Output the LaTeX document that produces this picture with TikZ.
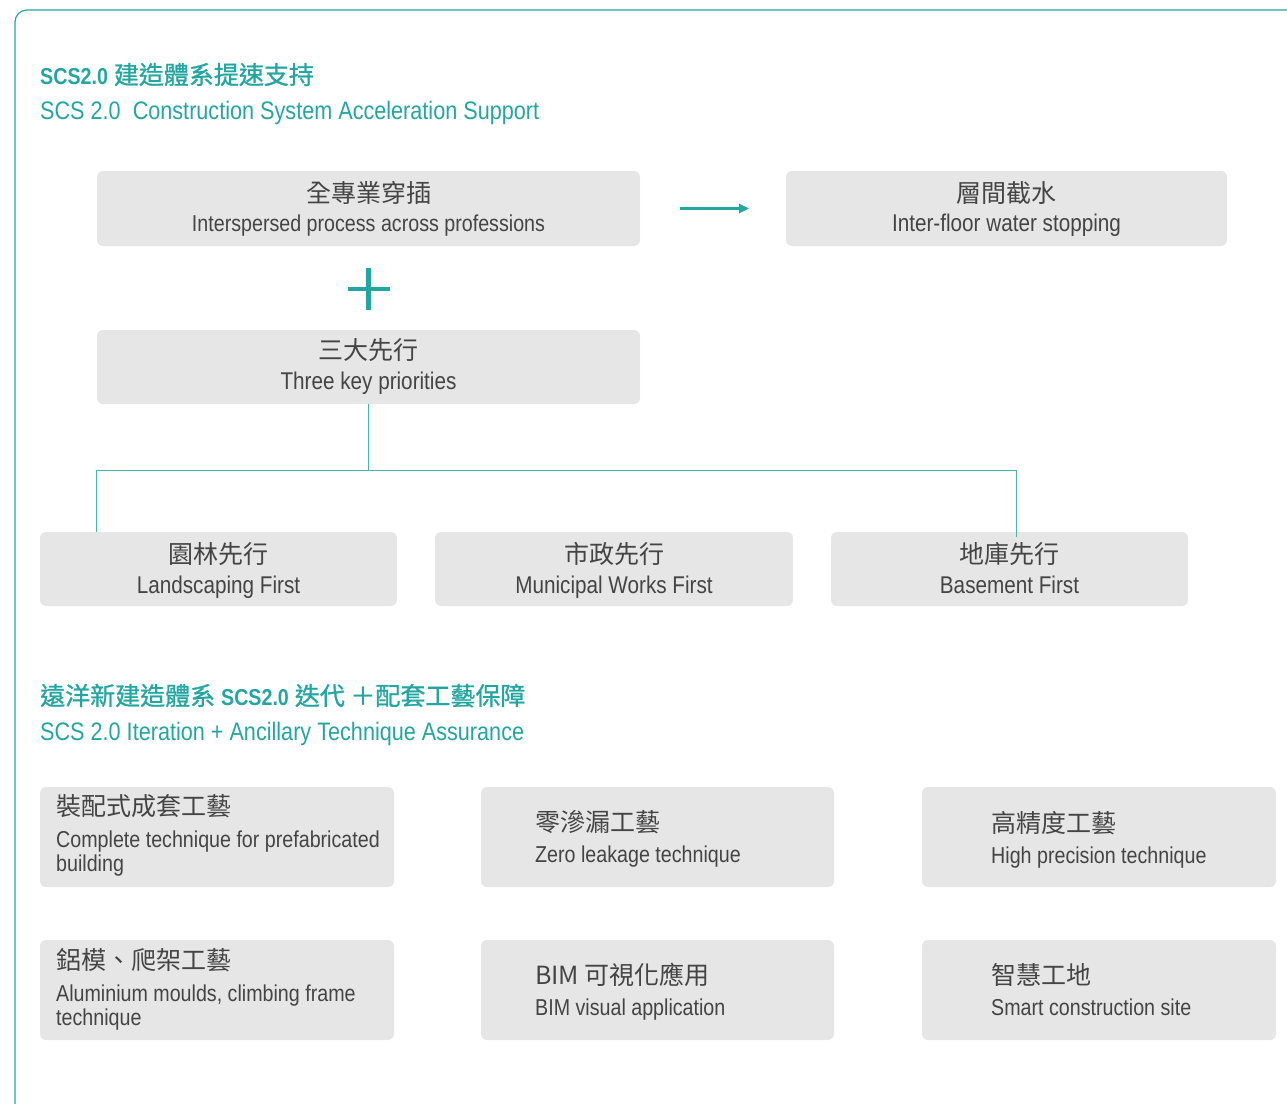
\documentclass[tikz,border=0pt]{standalone}
\usepackage{fontspec}
\setmainfont[FakeStretch=0.855]{Liberation Sans}
\newfontfamily\cjk{Noto Sans CJK TC}
\newfontfamily\cjkm[FakeBold=1]{Noto Sans CJK TC}
\usetikzlibrary{arrows.meta,calc}
\definecolor{tealA}{HTML}{22A6A1}
\definecolor{tealL}{HTML}{45B5B1}
\definecolor{boxgray}{HTML}{E6E6E6}
\definecolor{txt}{HTML}{444444}
\tikzset{
  box/.style={fill=boxgray, rounded corners=6pt, draw=none, inner sep=0pt, outer sep=0pt},
  cj/.style={anchor=base, inner sep=0pt, text=txt, font=\cjk\fontsize{25}{30}\selectfont},
  en/.style={anchor=base, inner sep=0pt, text=txt, font=\fontsize{23}{24}\selectfont},
  enb/.style={anchor=base, inner sep=0pt, text=txt, font=\fontsize{24.2}{24}\selectfont},
  cjl/.style={cj, anchor=base west},
  enl/.style={anchor=base west, inner sep=0pt, text=txt, align=left, font=\fontsize{23}{24}\selectfont},
  ttlcj/.style={anchor=base west, inner sep=0pt, text=tealA, font=\fontsize{25}{30}\selectfont},
  ttlen/.style={anchor=base west, inner sep=0pt, text=tealA, font=\fontsize{25.3}{30}\selectfont},
  conn/.style={draw=tealL, line width=1.2pt},
  arr/.style={draw=tealA, line width=2.4pt, -{Triangle[length=10pt,width=9pt]}},
}
\begin{document}
\begin{tikzpicture}[x=1pt,y=-1pt]
\useasboundingbox (0,0) rectangle (1287,1103);
% frame
\draw[tealA, line width=1.2pt, rounded corners=12pt] (15,1110) -- (15,10) -- (1300,10);

% titles
\node[ttlcj] (t1) at (40,84) {{\fontsize{23}{30}\bfseries SCS2.0} {\cjkm 建造體系提速支持}};
\node[ttlen] (t1e) at (40,119) {SCS 2.0\ \ Construction System Acceleration Support};

% top boxes
\node[box, minimum width=543pt, minimum height=75pt] (b1) at (368.5,208.5) {};
\node[box, minimum width=441pt, minimum height=75pt] (b2) at (1006.5,208.5) {};
\node[box, minimum width=543pt, minimum height=74pt] (b3) at (368.5,367) {};

\node[cj] (b1c) at (368.5,202) {全專業穿插};
\node[en] (b1e) at (368.5,231) {Interspersed process across professions};
\node[cj] (b2c) at (1006.5,202) {層間截水};
\node[enb] (b2e) at (1006.5,231) {Inter-floor water stopping};
\node[cj] (b3c) at (368.5,359) {三大先行};
\node[enb] (b3e) at (368.5,389) {Three key priorities};

% arrow
\draw[arr, shorten <=40pt, shorten >=37pt] (b1.east) -- (b2.west);

% plus
\draw[tealA, line width=4.5pt] (347.5,289) -- (389.5,289);
\draw[tealA, line width=4.5pt] (368.5,268) -- (368.5,310);

% bottom row
\node[box, minimum width=357pt, minimum height=74pt] (land) at (218.5,569) {};
\node[box, minimum width=358pt, minimum height=74pt] (muni) at (614,569) {};
\node[box, minimum width=357pt, minimum height=74pt] (base) at (1009.5,569) {};
\node[cj] (landc) at (218.5,563) {園林先行};
\node[enb] (lande) at (218.5,593) {Landscaping First};
\node[cj] (munic) at (614,563) {市政先行};
\node[enb] (munie) at (614,593) {Municipal Works First};
\node[cj] (basec) at (1009.5,563) {地庫先行};
\node[enb] (basee) at (1009.5,593) {Basement First};

% connectors
\coordinate (j) at (368.5,470.5);
\draw[conn] (b3.south) -- (j);
\draw[conn] (j) -| ([xshift=56.5pt]land.north west);
\draw[conn] (j) -| ([xshift=185.5pt,yshift=-5pt]base.north west);

% second title
\node[ttlcj] (t2) at (40,705) {{\cjkm 遠洋新建造體系} {\fontsize{23}{30}\bfseries SCS2.0} {\cjkm 迭代 ＋配套工藝保障}};
\node[ttlen] (t2e) at (40,740) {SCS 2.0 Iteration + Ancillary Technique Assurance};

% grid
\node[box, minimum width=354pt, minimum height=100pt] (ga) at (217,837) {};
\node[box, minimum width=353pt, minimum height=100pt] (gb) at (657.5,837) {};
\node[box, minimum width=354pt, minimum height=100pt] (gc) at (1099,837) {};
\node[box, minimum width=354pt, minimum height=100pt] (gd) at (217,990) {};
\node[box, minimum width=353pt, minimum height=100pt] (ge) at (657.5,990) {};
\node[box, minimum width=354pt, minimum height=100pt] (gf) at (1099,990) {};

\node[cjl] (gac) at (56,815) {裝配式成套工藝};
\node[enl] (gae) at (56,871) {Complete technique for prefabricated\\building};
\node[cjl] (gbc) at (535,831) {零滲漏工藝};
\node[enl] (gbe) at (535,862) {Zero leakage technique};
\node[cjl] (gcc) at (991,832) {高精度工藝};
\node[enl] (gce) at (991,863) {High precision technique};
\node[cjl] (gdc) at (56,969) {鋁模、爬架工藝};
\node[enl] (gde) at (56,1025) {Aluminium moulds, climbing frame\\technique};
\node[cjl] (gec) at (535,984) {BIM 可視化應用};
\node[enl] (gee) at (535,1015) {BIM visual application};
\node[cjl] (gfc) at (991,984) {智慧工地};
\node[enl] (gfe) at (991,1015) {Smart construction site};
\end{tikzpicture}
\end{document}
